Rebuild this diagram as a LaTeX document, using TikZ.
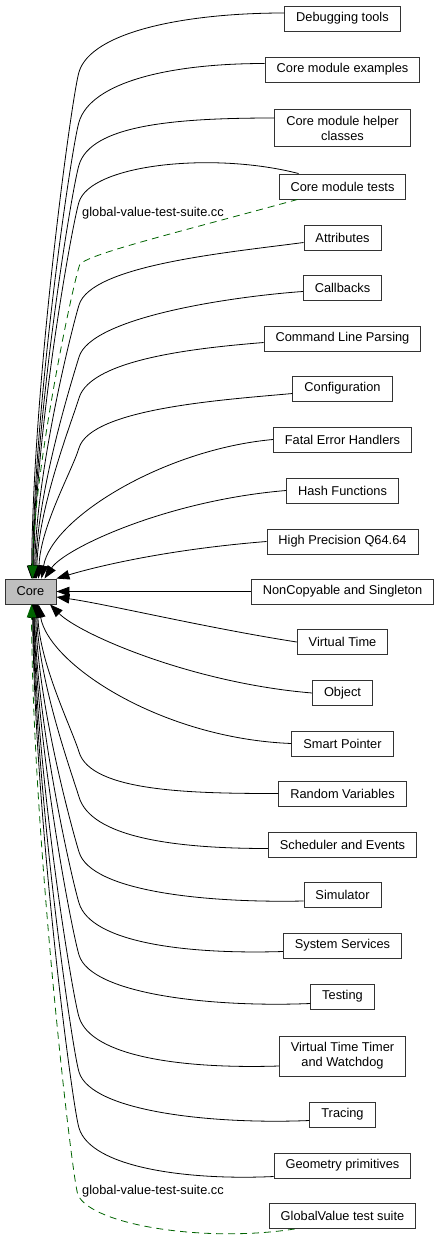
\documentclass[tikz,border=0pt]{standalone}
\usepackage{fontspec}
\setmainfont{Liberation Sans}
\usepackage{tikz}
\usetikzlibrary{arrows.meta}
\definecolor{coregray}{HTML}{BFBFBF}
\definecolor{filegreen}{HTML}{006400}
\tikzset{
  grp/.style={draw=black!80, line width=0.9pt, fill=white, align=center,
    font=\fontsize{12.8}{15}\selectfont, minimum height=25pt,
    inner xsep=11.5pt, inner ysep=6.5pt},
  dep/.style={line width=0.8pt, -{Triangle[length=13pt, width=9.5pt]}},
  filedep/.style={dep, filegreen, dash pattern=on 7pt off 5pt},
  flabel/.style={font=\fontsize{12.8}{15}\selectfont, inner sep=0pt}
}

\begin{document}
\begin{tikzpicture}[x=1pt, y=-1pt]
\newcommand{\listx}{342.5}
\useasboundingbox (0,0) rectangle (440,1246);
\node[grp, fill=coregray, minimum width=51pt] (core) at (30.5,591.5) {Core};
\foreach \n/\y/\lbl in {dbg/18.5/Debugging tools, ex/69.5/Core module examples,
    helper/128/{Core module helper\\classes}, tests/186.5/Core module tests,
    attr/237.5/Attributes, callbacks/287.5/Callbacks,
    cmdline/338.5/Command Line Parsing, config/388.5/Configuration,
    fatal/439.5/Fatal Error Handlers, hash/490.5/Hash Functions,
    hpq/541.5/High Precision Q64.64, noncopy/591.5/NonCopyable and Singleton,
    vtime/642/Virtual Time, object/693/Object, smartptr/743.5/Smart Pointer,
    random/793.5/Random Variables, sched/844.5/Scheduler and Events,
    sim/895/Simulator, syssvc/945.5/System Services, testing/996.5/Testing,
    vtimer/1056/{Virtual Time Timer\\and Watchdog}, tracing/1114.5/Tracing,
    geom/1165.5/Geometry primitives, gvtest/1216/GlobalValue test suite}
  \node[grp] (\n) at (\listx,\y) {\lbl};

%% groups above the core: bend near x=79, then down onto its top
\foreach \n/\ys/\cx/\cy/\ky/\dx in {dbg/5.5/-100/0/72/1, ex/6/-95/0/122/2,
    helper/10/-100/0/165/2.5, attr/-5/-75/10/305/4, callbacks/-4/-70/5/357/5,
    cmdline/-4/-60/5/398/6, config/-5/-65/6/448/8}
  \draw[dep] ([yshift=\ys pt]\n.west) .. controls +(\cx,\cy) and (91,\ky-40) .. (79,\ky)
    .. controls (72,\ky+23) and +(2,{0.4*(\ky-579)}) .. ([xshift=\dx pt]core.north);
\draw[dep] ([xshift=20pt]tests.north west) .. controls +(-85,-22) and (91,164) .. (79,202)
  .. controls (72,225) and +(2,-150) .. ([xshift=3pt]core.north);
\draw[dep] (fatal.west) .. controls +(-110,10) and +(10,-60) .. ([xshift=11pt]core.north);
\draw[dep] (hash.west) .. controls +(-120,10) and +(20,-30) .. ([xshift=14pt]core.north);
\draw[dep] (hpq.west) .. controls +(-100,8) and +(40,-12) .. (core.north east);
\draw[dep] (noncopy.west) -- (core.east);

%% groups below the core
\draw[dep] (vtime.west) .. controls +(-90,-14) and +(50,7) .. ([yshift=-5.5pt]core.east);
\draw[dep] (object.west) .. controls +(-120,-10) and +(30,30) .. ([xshift=19.5pt]core.south);
\draw[dep] (smartptr.west) .. controls +(-130,-5) and +(10,60) .. ([xshift=8pt]core.south);
\foreach \n/\ys/\cx/\cy/\ky/\dx in {random/0/-85/0/752/7, sched/-4/-95/0/797/6,
    sim/-6/-95/2/852/5, syssvc/-6/-95/3/903/4, testing/-7/-95/4/955/3.5,
    vtimer/-10/-95/3/1017/3, tracing/-6/-95/4/1072/2.5, geom/-11/-85/4/1128/2}
  \draw[dep] ([yshift=\ys pt]\n.west) .. controls +(\cx,\cy) and (91,\ky+40) .. (79,\ky)
    .. controls (72,\ky-23) and +(2,{0.4*(\ky-604)}) .. ([xshift=\dx pt]core.south);

%% file links
\draw[filedep] ([xshift=19pt]tests.south west) .. controls +(-120,33) and (92,253) .. (80,264)
  .. controls (74,278) and +(1,-110) .. ([xshift=2pt]core.north);
\node[flabel] (flab1) at (153,213) {global-value-test-suite.cc};
\draw[filedep] ([xshift=26pt]gvtest.south west) .. controls +(-90,14) and (92,1225) .. (78,1195)
  .. controls (72,1180) and +(1,230) .. ([xshift=1pt]core.south);
\node[flabel] (flab2) at (153,1191) {global-value-test-suite.cc};
\end{tikzpicture}
\end{document}
